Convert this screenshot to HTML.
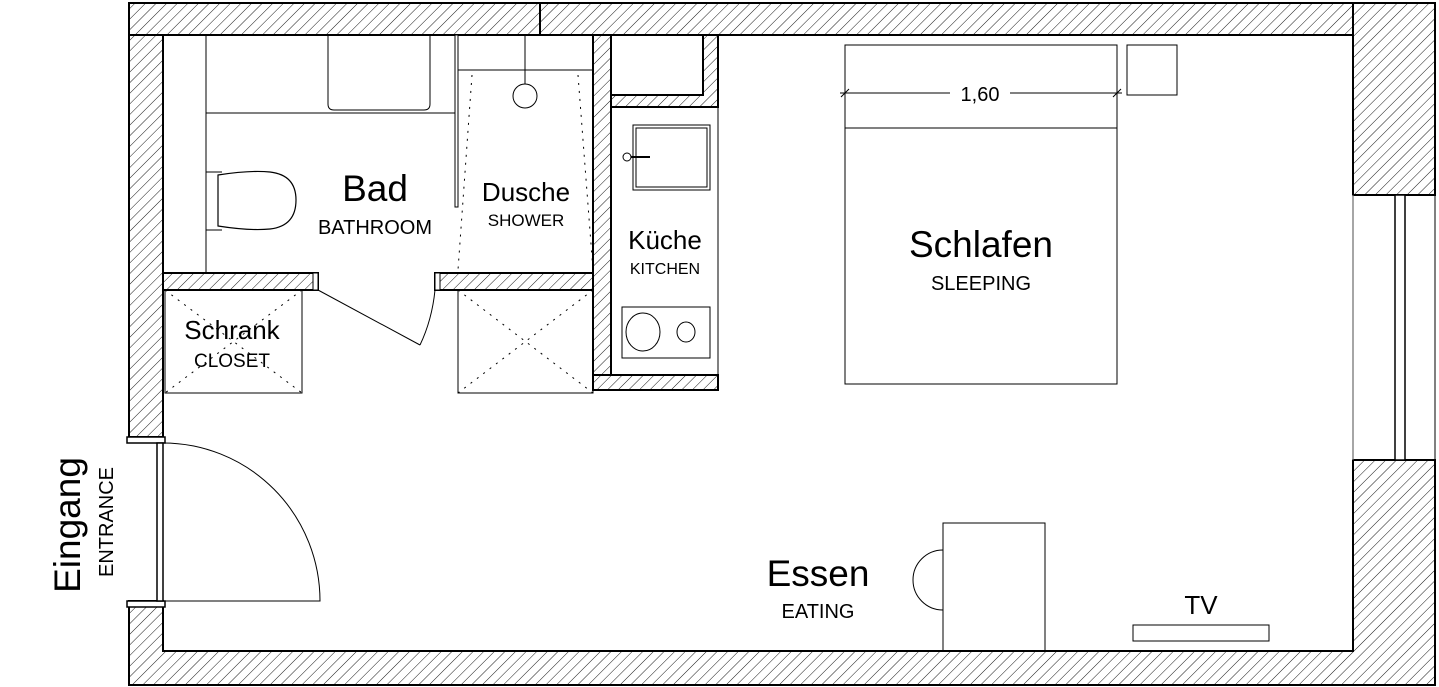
<!DOCTYPE html>
<html><head><meta charset="utf-8"><style>
html,body{margin:0;padding:0;background:#fff;}
svg{display:block}
text{font-family:"Liberation Sans",sans-serif;fill:#000;text-anchor:middle}
</style></head><body>
<svg width="1439" height="687" viewBox="0 0 1439 687" xmlns="http://www.w3.org/2000/svg">
<defs>
<pattern id="h" patternUnits="userSpaceOnUse" width="7.5" height="7.5" patternTransform="rotate(45)">
<rect width="7.5" height="7.5" fill="#fff"/><line x1="0" y1="0" x2="0" y2="7.5" stroke="#000" stroke-width="0.9"/>
</pattern>
</defs>
<g stroke="#000" stroke-width="2" fill="url(#h)">
<rect x="129" y="3" width="1224" height="32"/>
<line x1="540" y1="3" x2="540" y2="35"/>
<rect x="129" y="35" width="34" height="402"/>
<path d="M129 601 H163 V651 H1353 V460 H1435 V685 H129 Z"/>
<rect x="1353" y="3" width="82" height="192"/>
<rect x="163" y="273" width="155" height="17"/>
<rect x="435" y="273" width="158" height="17"/>
<rect x="593" y="35" width="18" height="355"/>
<rect x="593" y="375" width="125" height="15"/>
<path d="M703 35 H718 V107 H611 V95 H703 Z"/>
</g>
<g stroke="#000" fill="none" stroke-width="1.5">
<rect x="127" y="437" width="38" height="6" fill="#fff"/>
<rect x="127" y="601" width="38" height="6" fill="#fff"/>
<rect x="157" y="443" width="6" height="158" fill="#fff"/>
<path d="M163 443 A157 158 0 0 1 320 601 H163" stroke-width="1"/>
<line x1="1353" y1="195" x2="1353" y2="460" stroke="#888"/>
<line x1="1353" y1="195" x2="1435" y2="195" stroke-width="1"/>
<line x1="1353" y1="460" x2="1435" y2="460" stroke-width="1"/>
<rect x="1395" y="195" width="10" height="265" fill="#fff"/>
<line x1="1435" y1="195" x2="1435" y2="460" stroke-width="1"/>
<line x1="206" y1="35" x2="206" y2="273" stroke-width="1"/>
<line x1="206" y1="113" x2="455" y2="113" stroke-width="1"/>
<path d="M328 35 V104 Q328 110 334 110 H424 Q430 110 430 104 V35" stroke-width="1"/>
<path d="M206 172 H222 M206 230 H222" stroke-width="1"/>
<path d="M218 175 Q250 170 270 172 Q296 175 296 200 Q296 226 270 229 Q250 231 218 226 Z" stroke-width="1.2"/>
<rect x="455" y="35" width="3" height="172" fill="#fff" stroke-width="1"/>
<line x1="458" y1="70" x2="593" y2="70" stroke-width="1"/>
<line x1="525" y1="35" x2="525" y2="84" stroke-width="1"/>
<circle cx="525" cy="96" r="12" stroke-width="1"/>
<path d="M472 75 L458 270 M578 75 L593 270" stroke-dasharray="2 6" stroke-width="1"/>
<rect x="313" y="273" width="5" height="17" fill="#fff" stroke-width="1"/>
<rect x="435" y="273" width="5" height="17" fill="#fff" stroke-width="1"/>
<path d="M318 290 L420 345 M420 345 Q432 320 435 290" stroke-width="1"/>
<rect x="165" y="290" width="137" height="103" stroke-width="1"/>
<path d="M165 290 L302 393 M302 290 L165 393" stroke-dasharray="2 6" stroke-width="1"/>
<rect x="458" y="290" width="135" height="103" stroke-width="1"/>
<path d="M458 290 L593 393 M593 290 L458 393" stroke-dasharray="2 6" stroke-width="1"/>
<line x1="718" y1="107" x2="718" y2="375" stroke-width="1"/>
<rect x="633" y="125" width="77" height="65" stroke-width="1"/>
<rect x="636" y="128" width="71" height="59" stroke-width="1"/>
<circle cx="627" cy="157" r="4" stroke-width="1"/>
<line x1="631" y1="157" x2="650" y2="157" stroke-width="2"/>
<rect x="622" y="307" width="88" height="51" stroke-width="1"/>
<ellipse cx="643" cy="332" rx="17" ry="19" stroke-width="1"/>
<ellipse cx="686" cy="332" rx="9" ry="10" stroke-width="1"/>
<rect x="845" y="45" width="272" height="339" stroke-width="1"/>
<line x1="845" y1="128" x2="1117" y2="128" stroke-width="1"/>
<line x1="840" y1="93" x2="950" y2="93" stroke-width="1"/>
<line x1="1010" y1="93" x2="1122" y2="93" stroke-width="1"/>
<path d="M841 97 L849 89 M1113 97 L1121 89" stroke-width="1"/>
<rect x="1127" y="45" width="50" height="50" stroke-width="1"/>
<rect x="943" y="523" width="102" height="128" stroke-width="1"/>
<path d="M943 550 A30 30 0 0 0 943 610" stroke-width="1"/>
<rect x="1133" y="625" width="136" height="16" stroke-width="1"/>
</g>
<text x="980" y="101" font-size="20">1,60</text>
<text x="375" y="201" font-size="37">Bad</text>
<text x="375" y="234" font-size="20">BATHROOM</text>
<text x="526" y="201" font-size="26">Dusche</text>
<text x="526" y="226" font-size="17">SHOWER</text>
<text x="665" y="249" font-size="26">Küche</text>
<text x="665" y="274" font-size="16">KITCHEN</text>
<text x="981" y="257" font-size="37">Schlafen</text>
<text x="981" y="290" font-size="20">SLEEPING</text>
<text x="232" y="339" font-size="26">Schrank</text>
<text x="232" y="367" font-size="19">CLOSET</text>
<text x="818" y="586" font-size="37">Essen</text>
<text x="818" y="618" font-size="20">EATING</text>
<text x="1201" y="614" font-size="26">TV</text>
<text transform="translate(80,525) rotate(-90)" font-size="37">Eingang</text>
<text transform="translate(113,522) rotate(-90)" font-size="20">ENTRANCE</text>
</svg>
</body></html>
